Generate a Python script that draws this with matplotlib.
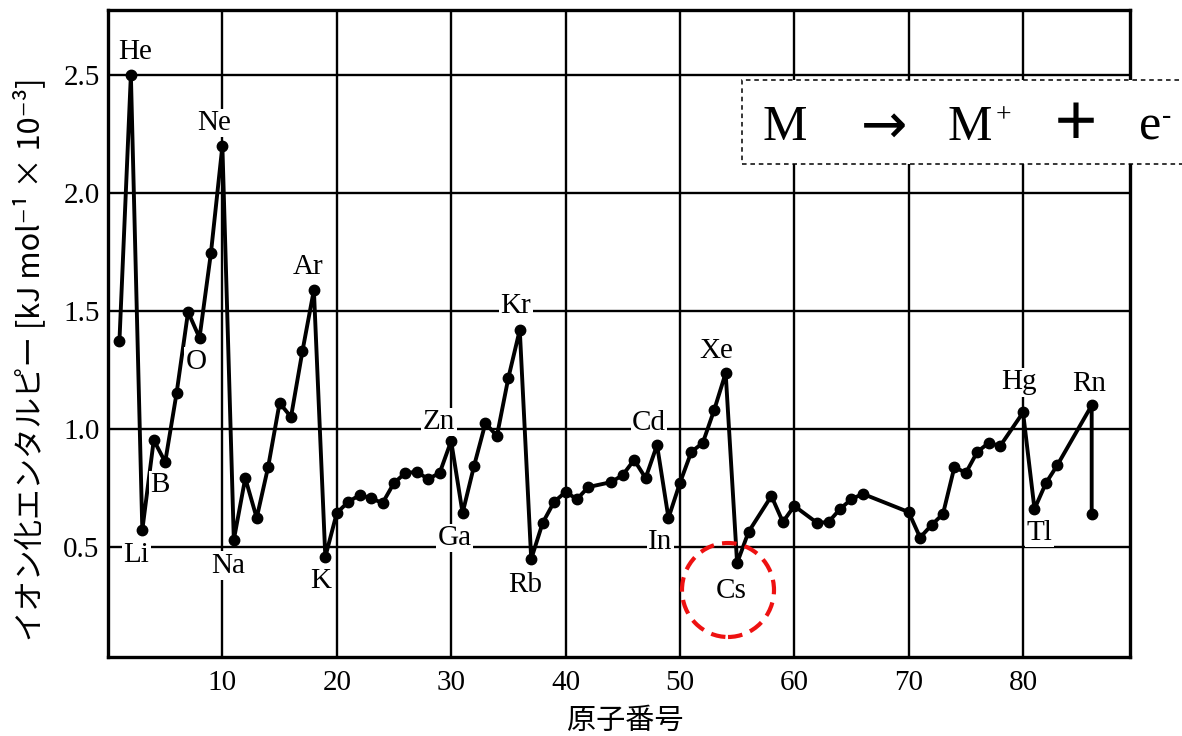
import matplotlib
matplotlib.use('Agg')
import matplotlib.pyplot as plt
from matplotlib.patches import Ellipse, Rectangle

# atomic number vs ionization enthalpy (x10^-3 kJ/mol)
atomic_number = [1, 2, 3, 4, 5, 6, 7, 8, 9, 10,
                 11, 12, 13, 14, 15, 16, 17, 18, 19, 20,
                 21, 22, 23, 24, 25, 26, 27, 28, 29, 30,
                 31, 32, 33, 34, 35, 36, 37, 38, 39, 40,
                 41, 42, 44, 45, 46, 47, 48, 49, 50,
                 51, 52, 53, 54, 55, 56, 58, 59, 60,
                 62, 63, 64, 65, 66, 70,
                 71, 72, 73, 74, 75, 76, 77, 78, 80,
                 81, 82, 83, 86, 86]
energy = [1.373, 2.50, 0.572, 0.953, 0.860, 1.153, 1.496, 1.386, 1.746, 2.199,
          0.530, 0.792, 0.623, 0.839, 1.110, 1.051, 1.330, 1.589, 0.458, 0.644,
          0.691, 0.720, 0.707, 0.686, 0.771, 0.814, 0.818, 0.788, 0.814, 0.949,
          0.644, 0.843, 1.025, 0.970, 1.216, 1.420, 0.449, 0.602, 0.691, 0.733,
          0.703, 0.754, 0.775, 0.805, 0.869, 0.792, 0.932, 0.623, 0.771,
          0.903, 0.941, 1.081, 1.237, 0.432, 0.564, 0.716, 0.606, 0.674,
          0.602, 0.606, 0.661, 0.703, 0.725, 0.648,
          0.540, 0.593, 0.640, 0.839, 0.814, 0.903, 0.941, 0.928, 1.070,
          0.661, 0.771, 0.847, 1.100, 0.640]

label_names = ['He', 'Ne', 'Ar', 'Kr', 'Xe', 'Rn', 'Li', 'Na', 'K', 'Rb', 'Cs',
               'B', 'O', 'Zn', 'Ga', 'Cd', 'In', 'Hg', 'Tl']
label_z = [2, 10, 18, 36, 54, 86, 3, 11, 19, 37, 55, 5, 8, 30, 31, 48, 49, 80, 81]
# label offset from its point, in pixels (right, up)
label_offset = [(4, 23), (-8, 23), (-6, 23), (-4, 24), (-9, 22), (-2, 21),
                (-6, -25), (-6, -26), (-5, -24), (-6, -26), (-6, -28),
                (-5, -23), (-3, -24), (-12, 19), (-8, -25), (-8, 22),
                (-8, -24), (-4, 30), (5, -24)]

x_ticks = [10, 20, 30, 40, 50, 60, 70, 80]
y_ticks = [0.5, 1.0, 1.5, 2.0, 2.5]

W, H = 1182, 736
fig = plt.figure(figsize=(W / 100, H / 100), dpi=100)
ax = fig.add_axes([108 / W, 1 - 657 / H, (1130 - 108) / W, (657 - 10) / H])

def fp(x, y):
    # pixel position -> figure fraction
    return x / W, 1 - y / H

ax.plot(atomic_number, energy, color='black', lw=2.8, marker='o', ms=7.5, zorder=3)

ax.set_xlim(0, 89.35)
ax.set_ylim(0.034, 2.775)
ax.set_xticks(x_ticks)
ax.set_yticks(y_ticks)
ax.set_xticklabels([str(t) for t in x_ticks])
ax.set_yticklabels(['%.1f' % t for t in y_ticks])
ax.tick_params(length=0, labelsize=21, pad=6)
ax.tick_params(axis='x', pad=9)
for lab in ax.get_xticklabels() + ax.get_yticklabels():
    lab.set_family('Liberation Serif')
ax.grid(True, color='black', lw=1.7)
ax.set_axisbelow(True)
for s in ax.spines.values():
    s.set_linewidth(2.4)

# first value for each Z (Rn has two)
lookup = {}
for z, e in zip(atomic_number, energy):
    lookup.setdefault(z, e)

for name, z, (dx, dy) in zip(label_names, label_z, label_offset):
    ax.annotate(name, (z, lookup[z]), xytext=(dx * 0.72, dy * 0.72),
                textcoords='offset points', ha='center', va='center',
                fontsize=21, family='Liberation Serif', zorder=4,
                bbox=dict(boxstyle='square,pad=0.05', fc='white', ec='none'))

# axis titles
fig.text(*fp(30, 359), 'イオン化エンタルピー [kJ mol⁻¹ × 10⁻³]', rotation=90,
         ha='center', va='center', fontsize=22,
         family=['Noto Sans CJK JP', 'DejaVu Sans'])
fig.text(*fp(625, 721), '原子番号', ha='center', va='center', fontsize=21,
         family=['Noto Sans CJK JP', 'DejaVu Sans'])

# Cs highlight
fig.patches.append(Ellipse(fp(728, 590), 92 / W, 94 / H, transform=fig.transFigure,
                           fill=False, ec='#ee1111', lw=3, ls=(0, (3.5, 2)), zorder=10))

# reaction box
x0, y0 = fp(742, 164)
fig.patches.append(Rectangle((x0, y0), (1200 - 742) / W, (164 - 80) / H,
                             transform=fig.transFigure, fc='white', ec='black',
                             lw=1.1, ls=(0, (3, 2.5)), zorder=10, clip_on=False))
serif = ['Liberation Serif', 'DejaVu Serif']
fig.text(*fp(785, 140), 'M', ha='center', va='baseline', fontsize=36, family=serif, zorder=11)
fig.text(*fp(884, 128), '→', ha='center', va='center', fontsize=40,
         family=['DejaVu Sans'], zorder=11)
fig.text(*fp(970, 140), 'M', ha='center', va='baseline', fontsize=36, family=serif, zorder=11)
fig.text(*fp(1003, 116), '+', ha='center', va='center', fontsize=20, family=serif, zorder=11)
fig.text(*fp(1076, 124), '＋', ha='center', va='center', fontsize=36,
         family=['Noto Sans CJK JP', 'DejaVu Sans'], weight='bold', zorder=11)
fig.text(*fp(1150, 140), 'e', ha='center', va='baseline', fontsize=36, family=serif, zorder=11)
fig.text(*fp(1167, 117), '-', ha='center', va='center', fontsize=20, family=serif, zorder=11)

fig.savefig('out.png', dpi=100)
